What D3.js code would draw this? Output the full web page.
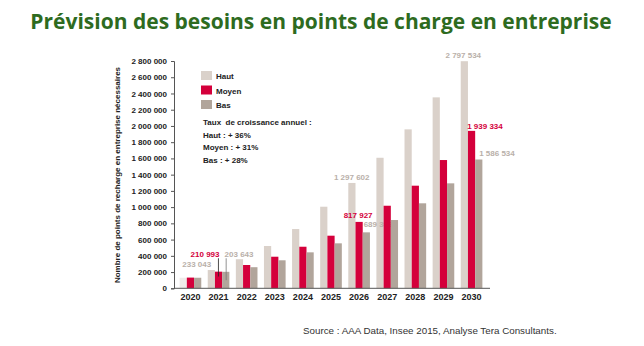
<!DOCTYPE html>
<html><head><meta charset="utf-8">
<script src="https://cdn.jsdelivr.net/npm/d3@7"></script>
<style>
body{margin:0;background:#fff;}
svg{display:block;font-family:"Liberation Sans",Arial,sans-serif;}
</style></head>
<body><svg id="c" width="644" height="346"></svg>
<script>
const years = ["2020","2021","2022","2023","2024","2025","2026","2027","2028","2029","2030"];
const series = ["Haut","Moyen","Bas"];
const haut  = [130000, 225000, 358000, 521000, 730000, 1005000, 1297602, 1608000, 1958000, 2352000, 2797534];
const moyen = [132000, 205000, 287000, 389000, 512000, 648000, 817927, 1017000, 1264000, 1580000, 1939334];
const bas   = [130000, 203000, 260000, 345000, 443000, 554000, 689302, 841000, 1047000, 1293000, 1586534];
const yTicks = [0,200000,400000,600000,800000,1000000,1200000,1400000,1600000,1800000,2000000,2200000,2400000,2600000,2800000];
const growth = ["Taux  de croissance annuel :","Haut : + 36%","Moyen : + 31%","Bas : + 28%"];
// value labels as printed on the source chart, anchored to a year and a value level
const labels = [
  {t:"233 043", year:"2020", v:268000, dx:6.3, k:"g"},
  {t:"210 993", year:"2021", v:386000, dx:-13.5, k:"r"},
  {t:"203 643", year:"2021", v:386000, dx:20.5, k:"g"},
  {t:"1 297 602", year:"2026", v:1334000, dx:-7.4, k:"g"},
  {t:"817 927", year:"2026", v:866000, dx:-1, k:"r"},
  {t:"689 302", year:"2026", v:749000, dx:19, k:"g", under:true},
  {t:"2 797 534", year:"2030", v:2843000, dx:-8.3, k:"g"},
  {t:"1 939 334", year:"2030", v:1968000, dx:13.4, k:"r"},
  {t:"1 586 534", year:"2030", v:1630000, dx:25.4, k:"g"}
];

const colors = {Haut:"#dad1ca", Moyen:"#d4003b", Bas:"#b1a59b"};
const svg = d3.select("#c");

const x = d3.scaleBand().domain(years).range([174, 488]).paddingInner(0.23).paddingOuter(0.2);
const xs = d3.scaleBand().domain(series).range([0, x.bandwidth()]);
const y = d3.scaleLinear().domain([0, 2800000]).range([288.3, 61]);

// title
svg.append("text").attr("x", 321).attr("y", 29).attr("text-anchor","middle")
  .attr("font-family","'Open Sans',sans-serif").attr("font-weight","bold").attr("font-size",21)
  .attr("fill","#2e6b1f").text("Prévision des besoins en points de charge en entreprise");

function drawLabels(sel, under){
  labels.filter(l=>!!l.under===under).forEach(l=>{
    sel.append("text").attr("x", x(l.year)+x.bandwidth()/2 + l.dx).attr("y", y(l.v))
      .attr("text-anchor","middle").attr("font-size",8).attr("font-weight","bold")
      .attr("fill", l.k==="r" ? "#d4003b" : "#b9b0a9").text(l.t);
  });
}

const vals = {Haut:haut, Moyen:moyen, Bas:bas};
function drawSeries(s){
  const g = svg.append("g");
  years.forEach((yr,i)=>{
    g.append("rect").attr("x", x(yr)+xs(s)).attr("width", xs.bandwidth())
      .attr("y", y(vals[s][i])).attr("height", y(0)-y(vals[s][i]))
      .attr("fill", (s==="Haut" && i===0) ? "#efebe9" : colors[s]);
  });
}
drawSeries("Haut");
drawLabels(svg.append("g"), true);
drawSeries("Moyen");
drawSeries("Bas");
drawLabels(svg.append("g"), false);

// leader lines for 2021
const x21 = x("2021");
svg.append("line").attr("x1", x21+xs("Moyen")+3.5).attr("x2", x21+xs("Moyen")+3.5)
  .attr("y1", y(370000)).attr("y2", y(145000)).attr("stroke","#222").attr("stroke-width",0.8);
svg.append("line").attr("x1", x21+xs("Bas")+4).attr("x2", x21+xs("Bas")+4)
  .attr("y1", y(370000)).attr("y2", y(100000)).attr("stroke","#777").attr("stroke-width",0.8);

// axes
const fmt = v => d3.format(",")(v).replace(/,/g," ");
const ya = svg.append("g").attr("transform","translate(174,0)")
  .call(d3.axisLeft(y).tickValues(yTicks).tickFormat(fmt).tickSize(3).tickPadding(4));
ya.selectAll("text").attr("font-size",8).attr("font-weight","bold").attr("fill","#222")
  .attr("font-family","'Liberation Sans',Arial,sans-serif");
ya.selectAll("line,path").attr("stroke","#555");

const xa = svg.append("g").attr("transform","translate(0,288.3)")
  .call(d3.axisBottom(x).tickSize(0).tickPadding(5));
xa.select("path").attr("d","M174,0H490").attr("stroke","#555");
xa.selectAll("text").attr("font-size",9).attr("font-weight","bold").attr("fill","#222")
  .attr("font-family","'Liberation Sans',Arial,sans-serif");

// y label
svg.append("text").attr("transform","translate(120,175) rotate(-90)").attr("text-anchor","middle")
  .attr("font-size",8).attr("font-weight","bold").attr("fill","#222")
  .text("Nombre de points de recharge en entreprise nécessaires");

// legend
series.forEach((s,i)=>{
  svg.append("rect").attr("x",201).attr("y",71+i*14.5).attr("width",11).attr("height",9).attr("fill",colors[s]);
  svg.append("text").attr("x",216).attr("y",79+i*14.5).attr("font-size",8).attr("font-weight","bold")
    .attr("fill","#222").text(s);
});
growth.forEach((t,i)=>{
  svg.append("text").attr("x",203).attr("y",125+i*12.5).attr("font-size",8).attr("font-weight","bold")
    .attr("fill","#222").style("white-space","pre").text(t);
});

// source
svg.append("text").attr("x",303).attr("y",334).attr("font-size",9.8).attr("fill","#333")
  .text("Source : AAA Data, Insee 2015, Analyse Tera Consultants.");
</script></body></html>
